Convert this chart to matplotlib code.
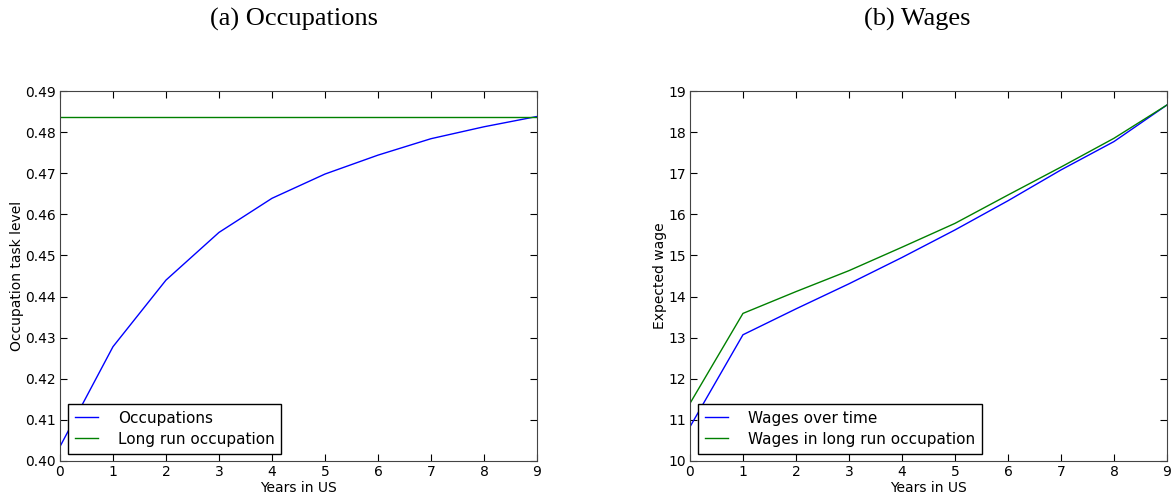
import matplotlib
matplotlib.use('Agg')
import matplotlib.pyplot as plt

years = [0, 1, 2, 3, 4, 5, 6, 7, 8, 9]

occupations = [0.4035, 0.4278, 0.4440, 0.4556, 0.4639,
               0.4698, 0.4744, 0.4784, 0.4813, 0.4838]
long_run_occupation = [0.4838] * 10

wages = [10.83, 13.07, 13.70, 14.31, 14.95,
         15.62, 16.33, 17.08, 17.77, 18.66]
wages_long_run = [11.40, 13.59, 14.12, 14.63, 15.20,
                  15.78, 16.47, 17.15, 17.85, 18.66]


def style_axes(ax):
    ax.tick_params(direction='in', top=True, right=True, labelsize=10,
                   length=5, pad=3)
    for spine in ax.spines.values():
        spine.set_color('#444444')
    ax.set_xlim(0, 9)
    ax.set_xticks(years)
    ax.set_xlabel('Years in US', fontsize=10, labelpad=1)


def add_legend(ax):
    leg = ax.legend(loc='lower left', bbox_to_anchor=(0.017, 0.02),
                    fontsize=11, fancybox=False, framealpha=1,
                    edgecolor='black', borderaxespad=0, handlelength=1.5,
                    handletextpad=1.3, labelspacing=0.4, borderpad=0.45)
    leg.get_frame().set_linewidth(1.0)


fig = plt.figure(figsize=(11.76, 4.99), dpi=100)

ax1 = fig.add_axes([0.051, 0.0762, 0.4056, 0.7414])
ax1.plot(years, occupations, color='#0000ff', lw=1, label='Occupations')
ax1.plot(years, long_run_occupation, color='#008000', lw=1,
         label='Long run occupation')
ax1.set_ylim(0.40, 0.49)
ax1.set_yticks([0.40, 0.41, 0.42, 0.43, 0.44, 0.45, 0.46, 0.47, 0.48, 0.49])
ax1.set_yticklabels(['%.2f' % v for v in ax1.get_yticks()])
ax1.set_ylabel('Occupation task level', fontsize=10, labelpad=1)
style_axes(ax1)
add_legend(ax1)

ax2 = fig.add_axes([0.5867, 0.0762, 0.4056, 0.7414])
ax2.plot(years, wages, color='#0000ff', lw=1, label='Wages over time')
ax2.plot(years, wages_long_run, color='#008000', lw=1,
         label='Wages in long run occupation')
ax2.set_ylim(10, 19)
ax2.set_yticks(range(10, 20))
ax2.set_ylabel('Expected wage', fontsize=10, labelpad=1)
style_axes(ax2)
add_legend(ax2)

fig.text(0.25, 0.962, '(a) Occupations', ha='center', va='center',
         family='Liberation Serif', fontsize=19)
fig.text(0.78, 0.962, '(b) Wages', ha='center', va='center',
         family='Liberation Serif', fontsize=19)

fig.savefig('out.png', dpi=100)
